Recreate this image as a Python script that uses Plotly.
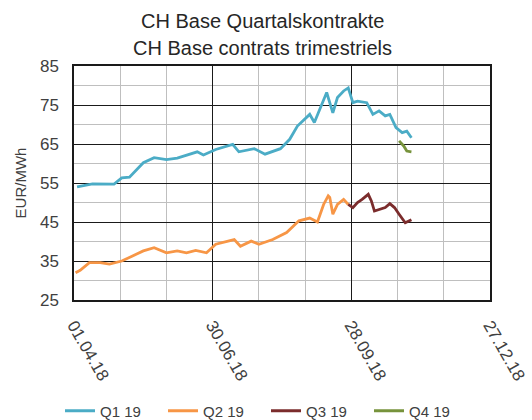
import plotly.graph_objects as go

q1_dates = ["2018-04-03", "2018-04-13", "2018-04-27", "2018-05-02", "2018-05-07", "2018-05-16",
            "2018-05-23", "2018-05-31", "2018-06-07", "2018-06-13", "2018-06-20", "2018-06-24",
            "2018-07-02", "2018-07-13", "2018-07-17", "2018-07-27", "2018-08-03", "2018-08-13",
            "2018-08-19", "2018-08-24", "2018-09-01", "2018-09-04", "2018-09-07", "2018-09-12",
            "2018-09-16", "2018-09-19", "2018-09-23", "2018-09-26", "2018-09-29", "2018-10-02",
            "2018-10-08", "2018-10-12", "2018-10-16", "2018-10-20", "2018-10-23", "2018-10-27",
            "2018-10-31", "2018-11-03", "2018-11-06"]
q1_values = [54.0, 54.8, 54.7, 56.3, 56.5, 60.2,
             61.5, 61.0, 61.4, 62.2, 63.0, 62.2,
             63.6, 64.9, 63.0, 63.8, 62.4, 63.8,
             66.2, 69.6, 72.6, 70.5, 73.5, 78.2,
             73.0, 76.9, 78.6, 79.4, 75.6, 76.0,
             75.6, 72.6, 73.5, 72.2, 72.6, 69.2,
             67.9, 68.3, 66.6]

q2_dates = ["2018-04-02", "2018-04-05", "2018-04-11", "2018-04-18", "2018-04-24", "2018-05-02",
            "2018-05-09", "2018-05-16", "2018-05-23", "2018-05-31", "2018-06-07", "2018-06-13",
            "2018-06-19", "2018-06-26", "2018-07-02", "2018-07-10", "2018-07-14", "2018-07-18",
            "2018-07-25", "2018-07-30", "2018-08-08", "2018-08-17", "2018-08-25", "2018-09-01",
            "2018-09-06", "2018-09-10", "2018-09-13", "2018-09-14", "2018-09-16", "2018-09-19",
            "2018-09-23", "2018-09-26"]
q2_values = [32.0, 32.6, 34.6, 34.6, 34.2, 35.0,
             36.3, 37.6, 38.4, 37.1, 37.6, 37.1,
             37.7, 37.1, 39.3, 40.1, 40.5, 38.8,
             40.1, 39.3, 40.5, 42.3, 45.3, 46.0,
             45.0, 49.5, 51.7, 51.3, 47.0, 49.5,
             50.8, 49.5]

q3_dates = ["2018-09-26", "2018-09-29", "2018-10-02", "2018-10-05", "2018-10-09", "2018-10-11",
            "2018-10-13", "2018-10-16", "2018-10-20", "2018-10-23", "2018-10-26", "2018-10-29",
            "2018-11-02", "2018-11-04", "2018-11-06"]
q3_values = [49.5, 48.7, 50.0, 50.8, 52.1, 50.4,
             47.8, 48.2, 48.7, 49.7, 48.7, 47.0,
             44.8, 45.2, 45.6]

q4_dates = ["2018-10-29", "2018-11-01", "2018-11-03", "2018-11-06"]
q4_values = [65.8, 64.5, 63.2, 63.0]

series_names = ["Q1 19", "Q2 19", "Q3 19", "Q4 19"]
colors = ["#4BACC6", "#F79646", "#7B2C2C", "#77933C"]

title_lines = ["CH Base Quartalskontrakte", "CH Base contrats trimestriels"]
y_title = "EUR/MWh"

DAY = 86400000
FONT = "Liberation Sans, Arial, sans-serif"

fig = go.Figure()
for name, xs, ys, c in zip(series_names,
                           [q1_dates, q2_dates, q3_dates, q4_dates],
                           [q1_values, q2_values, q3_values, q4_values],
                           colors):
    fig.add_trace(go.Scatter(x=xs, y=ys, mode="lines", name=name,
                             line=dict(color=c, width=2.8)))

fig.update_layout(
    width=532, height=420,
    margin=dict(l=74, r=42, t=66, b=120),
    paper_bgcolor="white", plot_bgcolor="white",
    font=dict(family=FONT, color="#404040"),
    showlegend=True,
    legend=dict(orientation="h", xref="container", x=60 / 532, xanchor="left",
                yref="container", y=9 / 420, yanchor="middle",
                font=dict(size=15, color="#404040"),
                entrywidth=58, entrywidthmode="pixels", traceorder="normal"),
)

for line, ypix in zip(title_lines, [21, 48]):
    fig.add_annotation(text=line, xref="paper", yref="paper",
                       x=(262 - 74) / 416, y=(300 - ypix) / 234,
                       xanchor="center", yanchor="middle", showarrow=False,
                       font=dict(size=20, color="#262626", family=FONT))

fig.update_xaxes(
    type="date", range=["2018-04-01", "2018-12-27"], automargin=False,
    tick0="2018-04-01", dtick=90 * DAY, tickformat="%d.%m.%y",
    tickangle=60, tickfont=dict(size=17, color="#404040"),
    ticklabelstandoff=7,
    showgrid=True, gridcolor="#1a1a1a", gridwidth=1.3,
    minor=dict(tick0="2018-04-01", dtick=30 * DAY, showgrid=True,
               gridcolor="#BFBFBF", gridwidth=1.3),
    showline=True, mirror=True, linecolor="#1a1a1a", linewidth=1.5,
    zeroline=False,
)
fig.update_yaxes(
    range=[25, 85], tick0=25, dtick=10, automargin=False,
    tickfont=dict(size=17, color="#404040"),
    ticklabelstandoff=10,
    title=dict(text=y_title, font=dict(size=15, color="#404040"), standoff=10),
    showgrid=True, gridcolor="#1a1a1a", gridwidth=1.3,
    minor=dict(tick0=25, dtick=5, showgrid=True, gridcolor="#BFBFBF", gridwidth=1.3),
    showline=True, mirror=True, linecolor="#1a1a1a", linewidth=1.5,
    zeroline=False,
)

fig.write_html("out.html", config={"displayModeBar": False},
               post_script="document.body.style.margin='0';")
